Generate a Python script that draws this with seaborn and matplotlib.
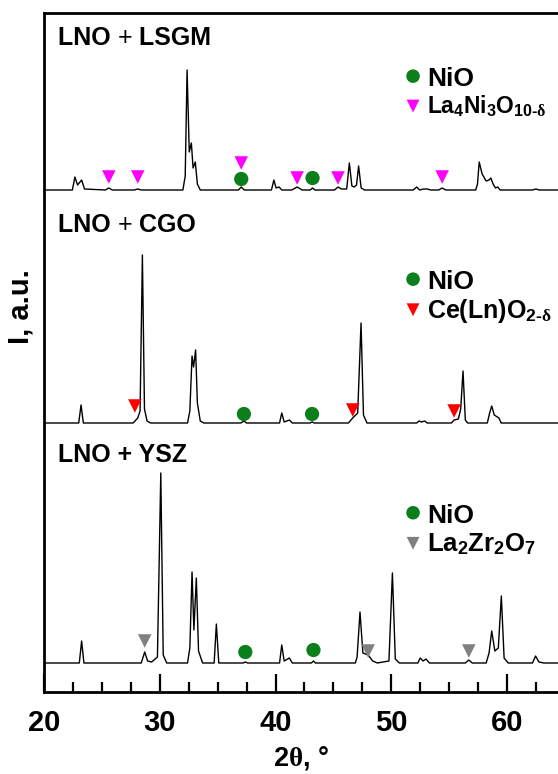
import matplotlib
matplotlib.use("Agg")
import matplotlib.pyplot as plt
import seaborn as sns
import pandas as pd
from matplotlib.ticker import MultipleLocator

# ---------------- data (2theta, intensity above baseline, a.u.) ----------------
LSGM_PTS = [(20, 0), (22.45, 0), (22.67, 13), (22.9, 5), (23.25, 10), (23.5, 1), (25.3, 0), (25.6, 2),
            (25.9, 0), (27.8, 0), (28.1, 1), (28.4, 0), (32.0, 0), (32.2, 14), (32.36, 120), (32.55, 38),
            (32.73, 47), (32.88, 22), (33.07, 28), (33.25, 6), (33.5, 0), (36.8, 0), (37.04, 3), (37.3, 0),
            (39.65, 0), (39.86, 10), (40.05, 2), (40.3, 3), (40.55, 0), (41.4, 0), (41.87, 3), (42.3, 0),
            (43.0, 0), (43.2, 2), (43.4, 0), (45.1, 0), (45.4, 3), (45.7, 1), (46.15, 1), (46.38, 27),
            (46.6, 4), (46.8, 3), (47.0, 5), (47.18, 24), (47.4, 2), (47.7, 0), (51.9, 0), (52.2, 3),
            (52.45, 0), (52.8, 1), (53.1, 1), (53.4, 0), (54.1, 0), (54.4, 2), (54.7, 0), (57.3, 0),
            (57.45, 6), (57.6, 28), (57.85, 16), (58.2, 9), (58.45, 10), (58.6, 12), (58.8, 6), (59.0, 2),
            (59.2, 3), (59.4, 0), (62.2, 0), (62.5, 1), (62.8, 0), (64.5, 0)]

CGO_PTS = [(20, 0), (23.0, 0), (23.2, 18), (23.4, 0), (27.7, 0), (28.1, 5), (28.3, 12), (28.5, 168),
           (28.68, 14), (28.9, 2), (29.2, 0), (32.4, 0), (32.6, 12), (32.79, 67), (32.92, 56), (33.1, 73),
           (33.25, 20), (33.5, 2), (33.8, 0), (37.0, 0), (37.27, 2), (37.5, 0), (40.35, 0), (40.54, 10),
           (40.75, 1), (41.2, 3), (41.45, 0), (43.0, 0), (43.16, 1), (43.35, 0), (46.3, 0), (46.67, 5),
           (47.1, 10), (47.39, 100), (47.6, 8), (47.9, 0), (52.2, 0), (52.4, 2), (52.6, 1), (52.9, 2),
           (53.1, 0), (55.2, 0), (55.43, 3), (55.8, 4), (56.0, 14), (56.2, 52), (56.4, 3), (56.6, 0),
           (58.3, 0), (58.5, 10), (58.68, 17), (58.9, 8), (59.3, 5), (59.5, 0), (64.5, 0)]

YSZ_PTS = [(20, 0), (23.05, 0), (23.25, 22), (23.45, 0), (28.4, 0), (28.7, 11), (28.95, 2), (29.3, 1),
           (29.8, 6), (30.09, 190), (30.3, 8), (30.6, 0), (32.4, 0), (32.6, 15), (32.79, 91), (32.95, 33),
           (33.16, 85), (33.35, 12), (33.7, 0), (34.7, 0), (34.89, 39), (35.1, 0), (37.2, 0), (37.39, 1),
           (37.6, 0), (40.35, 0), (40.54, 18), (40.75, 2), (41.2, 5), (41.45, 0), (43.1, 0), (43.28, 2),
           (43.45, 0), (46.9, 0), (47.05, 6), (47.3, 51), (47.55, 10), (48.0, 8), (48.4, 2), (48.8, 0),
           (49.8, 2), (50.1, 90), (50.35, 4), (50.7, 0), (52.3, 0), (52.5, 5), (52.75, 2), (53.0, 4),
           (53.3, 0), (56.4, 0), (56.7, 3), (57.0, 0), (58.2, 0), (58.45, 10), (58.68, 32), (58.95, 12),
           (59.25, 15), (59.51, 67), (59.75, 5), (60.1, 0), (62.2, 0), (62.47, 7), (62.75, 1), (63.2, 0),
           (64.5, 0)]

OFFSETS = {"LSGM": 502, "CGO": 269, "YSZ": 29}

# phase marker positions (2theta, y on the stacked scale)
LSGM_NIO = [(37.04, 513), (43.2, 514)]
LSGM_PHASE = [(25.6, 515), (28.1, 515), (37.04, 529), (41.87, 514), (45.4, 514), (54.4, 515)]
CGO_NIO = [(37.27, 278), (43.16, 278)]
CGO_PHASE = [(27.85, 286), (46.67, 282), (55.43, 281)]
YSZ_NIO = [(37.39, 40), (43.28, 42)]
YSZ_PHASE = [(28.7, 51), (48.0, 41), (56.7, 41)]

TITLES = [("LNO ", "+", " LSGM"), ("LNO ", "+", " CGO"), ("LNO + YSZ", "", "")]
PHASE_LABELS = [r"La$_{\mathbf{4}}$Ni$_{\mathbf{3}}$O$_{\mathbf{10\text{-}}\mathsf{\delta}}$",
                r"Ce(Ln)O$_{\mathbf{2\text{-}}\mathsf{\delta}}$",
                r"La$_{\mathbf{2}}$Zr$_{\mathbf{2}}$O$_{\mathbf{7}}$"]
PHASE_SIZES = [16.5, 18, 18.5]
PHASE_COLORS = ["#ff00ff", "#ff0000", "#808080"]
NIO_COLOR = "#0b7f1b"
XTICKS = [20, 30, 40, 50, 60]

# ---------------- style ----------------
sns.set_theme(style="white")
plt.rcParams["font.family"] = ["Liberation Sans", "DejaVu Sans"]
plt.rcParams["font.weight"] = "bold"
plt.rcParams["text.color"] = "black"
plt.rcParams["axes.labelcolor"] = "black"
plt.rcParams["xtick.color"] = "black"
plt.rcParams["mathtext.fontset"] = "custom"
plt.rcParams["mathtext.rm"] = "Liberation Sans:bold"
plt.rcParams["mathtext.bf"] = "Liberation Sans:bold"
plt.rcParams["mathtext.it"] = "Liberation Serif:bold"
plt.rcParams["mathtext.sf"] = "Liberation Serif:bold"

fig = plt.figure(figsize=(5.58, 7.74), dpi=100)
ax = fig.add_axes([44 / 558, 82 / 774, 514 / 558, 679 / 774])

frames = []
for name, pts in [("LSGM", LSGM_PTS), ("CGO", CGO_PTS), ("YSZ", YSZ_PTS)]:
    df = pd.DataFrame(pts, columns=["two_theta", "I"])
    df["I"] = df["I"] + OFFSETS[name]
    df["sample"] = name
    frames.append(df)
data = pd.concat(frames, ignore_index=True)

sns.lineplot(data=data, x="two_theta", y="I", units="sample", estimator=None, sort=False,
             color="black", linewidth=1.0, ax=ax, legend=False)

for nio, phase, pc in [(LSGM_NIO, LSGM_PHASE, PHASE_COLORS[0]),
                       (CGO_NIO, CGO_PHASE, PHASE_COLORS[1]),
                       (YSZ_NIO, YSZ_PHASE, PHASE_COLORS[2])]:
    dn = pd.DataFrame(nio, columns=["x", "y"])
    dp = pd.DataFrame(phase, columns=["x", "y"])
    sns.scatterplot(data=dn, x="x", y="y", marker="o", s=105, color=NIO_COLOR, edgecolor="none",
                    ax=ax, legend=False, zorder=3)
    sns.scatterplot(data=dp, x="x", y="y", marker="v", s=95, color=pc, edgecolor="none",
                    ax=ax, legend=False, zorder=3)

ax.set_xlim(20, 20 + 514 / 11.575)
ax.set_ylim(0, 679)
ax.set_yticks([])
ax.set_xticks(XTICKS)
ax.set_xticklabels([str(t) for t in XTICKS])
ax.xaxis.set_minor_locator(MultipleLocator(2.5))
ax.tick_params(axis="x", which="major", direction="in", length=13, width=1.6, labelsize=21, pad=12,
               bottom=True, top=False, colors="black")
ax.tick_params(axis="x", which="minor", direction="in", length=7, width=1.6, bottom=True, top=False,
               colors="black")
for s in ["left", "bottom", "top"]:
    ax.spines[s].set_linewidth(2.0)
    ax.spines[s].set_color("black")
ax.spines["right"].set_visible(False)

ax.set_xlabel(r"2$\mathsf{\theta}$, °", fontsize=19.5, fontweight="bold", labelpad=5, color="black")
ax.set_ylabel("I, a.u.", fontsize=21, fontweight="bold", color="black")
ax.yaxis.set_label_coords(-0.018, 0.568)

# panel titles (the plus sign is lighter in the first two)
for (a, p, b), yf in zip(TITLES, [0.963, 0.688, 0.349]):
    t = ax.text(0.027, yf, a, transform=ax.transAxes, fontsize=18, fontweight="bold",
                va="center", ha="left", color="black")
    if p:
        fig.canvas.draw()
        t2 = ax.annotate(p, xycoords=t, xy=(1, 0.5), va="center", ha="left", fontsize=18,
                         fontweight="normal", color="black")
        ax.annotate(b, xycoords=t2, xy=(1, 0.5), va="center", ha="left", fontsize=18,
                    fontweight="bold", color="black")

# legends
leg_rows = [(0.907, 0.863), (0.608, 0.563), (0.264, 0.219)]
for (y1, y2), lab, pc, fs in zip(leg_rows, PHASE_LABELS, PHASE_COLORS, PHASE_SIZES):
    ax.scatter([0.718], [y1], transform=ax.transAxes, marker="o", s=95, color=NIO_COLOR,
               edgecolor="none", clip_on=False, zorder=4)
    ax.scatter([0.718], [y2], transform=ax.transAxes, marker="v", s=85, color=pc,
               edgecolor="none", clip_on=False, zorder=4)
    ax.text(0.745, y1 - 0.0145, "NiO", transform=ax.transAxes, fontsize=19, fontweight="bold",
            va="baseline", ha="left", color="black")
    ax.text(0.745, y2 - 0.012, lab, transform=ax.transAxes, fontsize=fs, fontweight="bold",
            va="baseline", ha="left", color="black")

fig.savefig("out.png", dpi=100)
